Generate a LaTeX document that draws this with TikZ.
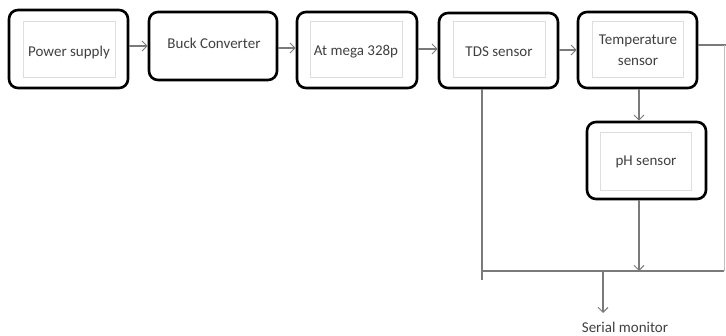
\documentclass[tikz,border=0pt]{standalone}
\usepackage{fontspec}
\setmainfont{Carlito}
\usetikzlibrary{arrows.meta}
\definecolor{txt}{HTML}{404040}
\definecolor{ln}{HTML}{7A7A7A}
\begin{document}
\begin{tikzpicture}[x=1pt,y=-1pt,
  blk/.style={draw=black,line width=2.6pt,rounded corners=9pt,inner sep=0pt,
    font=\fontsize{15}{21}\selectfont,text=txt,align=center},
  inner/.style={draw=black!13,line width=0.8pt},
  arr/.style={draw=ln,line width=1.2pt,-{Straight Barb[length=5pt,width=10pt,line width=1pt]}},
  wire/.style={draw=ln,line width=1.2pt},
  faint/.style={draw=black!25,line width=1pt}]
\useasboundingbox (0,0) rectangle (726,335);
% inner light frames
\draw[inner] (23,21) rectangle (115,77);
\draw[inner] (310,21) rectangle (402,77);
\draw[inner] (453,21) rectangle (545,77);
\draw[inner] (592,21) rectangle (683,77);
\draw[inner] (600,132) rectangle (691,190);
% boxes
\node[blk,minimum width=119pt,minimum height=78pt] (ps) at (68.5,49) {};
\node[font=\fontsize{15}{21}\selectfont,text=txt] (pst) at (69,52) {Power supply};
\node[blk,minimum width=128pt,minimum height=68pt] (bc) at (213,46) {};
\node[font=\fontsize{15}{21}\selectfont,text=txt] (bct) at (214,43) {Buck Converter};
\node[blk,minimum width=120pt,minimum height=76pt] (am) at (357,50) {};
\node[font=\fontsize{15}{21}\selectfont,text=txt] (amt) at (356,52) {At mega 328p};
\node[blk,minimum width=119pt,minimum height=75pt] (tds) at (498.5,50.5) {};
\node[font=\fontsize{15}{21}\selectfont,text=txt] (tdst) at (499,52) {TDS sensor};
\node[blk,minimum width=119pt,minimum height=76pt] (tmp) at (637.5,50) {};
\node[font=\fontsize{15}{21}\selectfont,text=txt,align=center] (tmpt) at (638,50) {Temperature\\sensor};
\node[blk,minimum width=119pt,minimum height=77pt] (ph) at (646.5,160.5) {};
\node[font=\fontsize{15}{21}\selectfont,text=txt] (pht) at (646,162) {pH sensor};
% coordinates
\coordinate (y46) at (0,46);
\coordinate (y48) at (0,48);
\coordinate (y49) at (0,49);
\coordinate (y50) at (0,50);
\coordinate (y45) at (0,45);
\coordinate (bus) at (0,271);
\coordinate (tdsend) at (482,280);
\coordinate (busl) at (483,271);
\coordinate (busr) at (724,271);
\coordinate (rtop) at (724,45);
\coordinate (redge) at (726,45);
\coordinate (smx) at (603,271);
\coordinate (sm) at (603,313);
% connectors
\draw[arr] (ps.east |- y46) -- (bc.west |- y46);
\draw[arr] (bc.east |- y48) -- (am.west |- y48);
\draw[arr] (am.east |- y49) -- (tds.west |- y49);
\draw[arr] (tds.east |- y50) -- (tmp.west |- y50);
\draw[wire] (tmp.east |- y45) -- (redge);
\draw[faint] (rtop) -- (busr);
\draw[wire] (tds.south -| tdsend) -- (tdsend);
\draw[arr] (tmp.south -| ph.north) ++(-7.5,0) coordinate (ta) -- (ta |- ph.north);
\draw[arr] (ph.south) ++(-7.5,0) coordinate (pa) -- (pa |- bus);
\draw[wire] (busl) -- (busr);
\draw[arr] (smx) -- (sm);
\node[font=\fontsize{15}{21}\selectfont,text=txt] (smt) at (625,327) {Serial monitor};
\end{tikzpicture}
\end{document}
